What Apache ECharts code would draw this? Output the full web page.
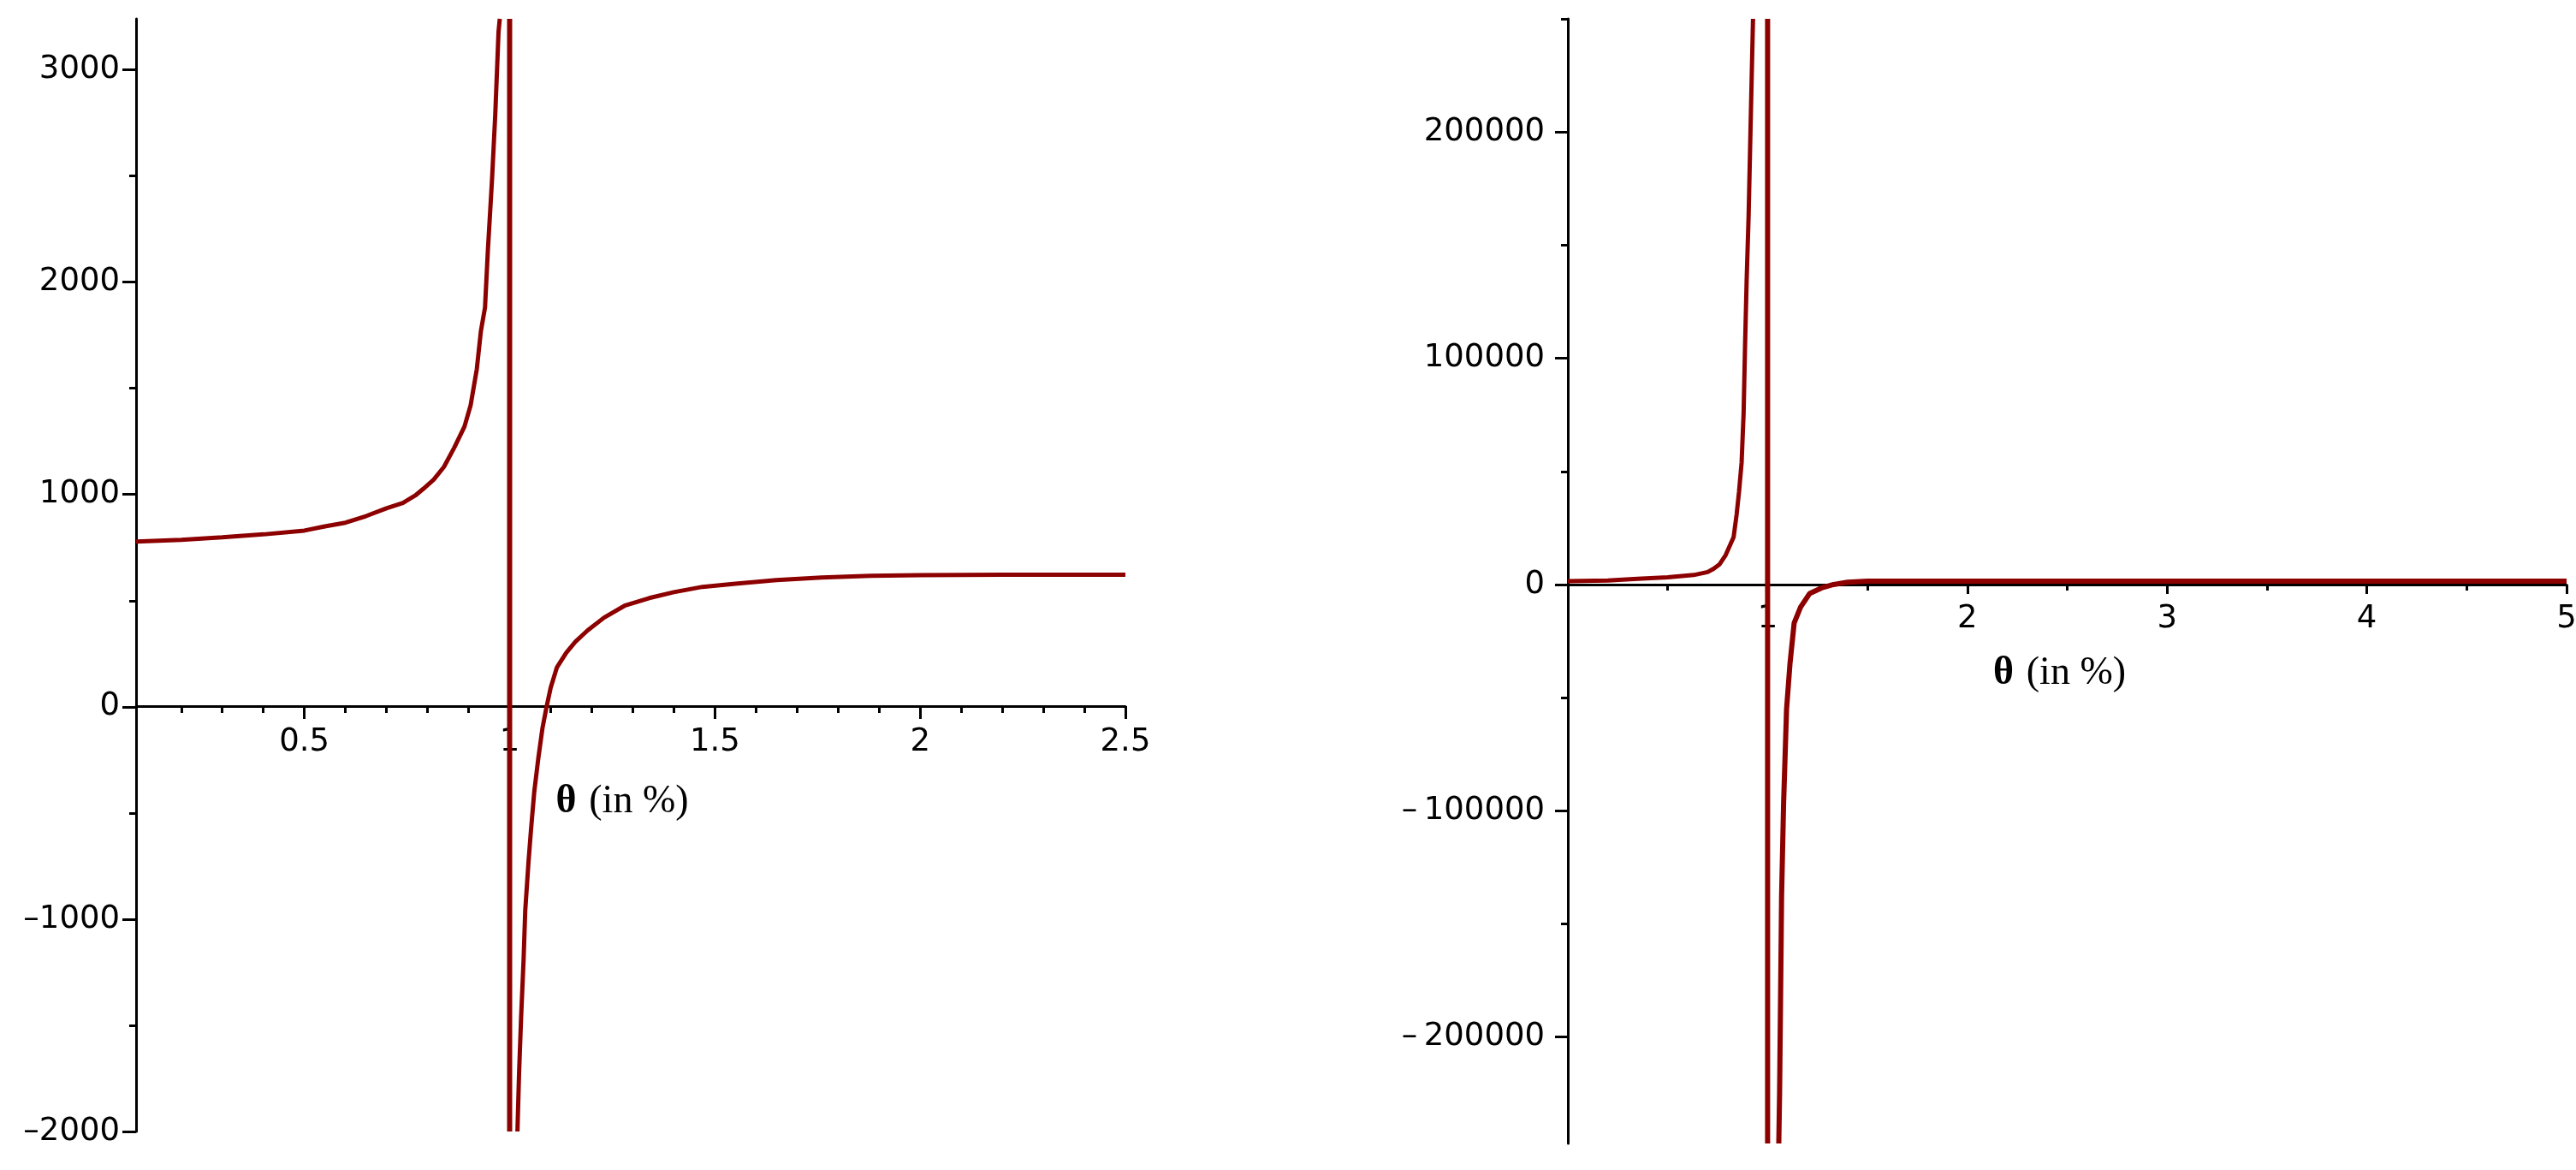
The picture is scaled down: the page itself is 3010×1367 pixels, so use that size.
<!DOCTYPE html>
<html>
<head>
<meta charset="utf-8">
<title>theta plots</title>
<script src="https://cdn.jsdelivr.net/npm/echarts@6/dist/echarts.min.js"></script>
<style>
  html, body { margin: 0; padding: 0; background: #fff; }
  #chart { width: 3010px; height: 1367px; }
</style>
</head>
<body>
<div id="chart"></div>
<script>
// left plot: branch before the pole, branch after it, and the pole line
var leftThetaA = [0.09, 0.2, 0.3, 0.4, 0.5, 0.55, 0.6, 0.65, 0.7, 0.74, 0.77, 0.79, 0.815, 0.84, 0.865, 0.89, 0.905, 0.92, 0.93, 0.94, 0.947, 0.957, 0.965, 0.973, 0.976];
var leftValueA = [778, 786, 798, 812, 830, 850, 867, 898, 935, 960, 995, 1027, 1070, 1130, 1220, 1320, 1420, 1590, 1770, 1880, 2150, 2480, 2790, 3180, 3240];
var leftThetaB = [1.019, 1.023, 1.028, 1.034, 1.038, 1.046, 1.052, 1.06, 1.07, 1.08, 1.09, 1.1, 1.115, 1.138, 1.16, 1.19, 1.23, 1.28, 1.34, 1.4, 1.47, 1.55, 1.65, 1.76, 1.88, 2.0, 2.2, 2.5];
var leftValueB = [-2000, -1725, -1460, -1190, -960, -730, -580, -400, -240, -100, 0, 90, 185, 255, 306, 360, 420, 476, 512, 540, 565, 580, 597, 609, 617, 620, 622, 622];
var leftPoleTheta = [1, 1];
var leftPoleValue = [3240, -2000];
var leftXTicks = [0.5, 1, 1.5, 2, 2.5];
var leftXMinorTicks = [0.2, 0.3, 0.4, 0.6, 0.7, 0.8, 0.9, 1.1, 1.2, 1.3, 1.4, 1.6, 1.7, 1.8, 1.9, 2.1, 2.2, 2.3, 2.4];
var leftYTicks = [-2000, -1000, 0, 1000, 2000, 3000];
var leftYMinorTicks = [-1500, -500, 500, 1500, 2500];

// right plot
var rightThetaA = [0, 0.2, 0.35, 0.5, 0.63, 0.7, 0.73, 0.76, 0.79, 0.81, 0.83, 0.845, 0.857, 0.87, 0.88, 0.887, 0.895, 0.905, 0.915, 0.927];
var rightValueA = [1500, 1800, 2500, 3200, 4200, 5500, 7000, 9000, 13000, 17000, 21000, 31000, 41000, 54000, 76000, 105000, 134000, 163000, 203000, 250000];
var rightThetaB = [1.056, 1.06, 1.065, 1.07, 1.08, 1.095, 1.112, 1.133, 1.165, 1.21, 1.27, 1.33, 1.4, 1.5, 2, 3, 4, 5];
var rightValueB = [-247000, -225000, -182000, -138000, -97000, -55000, -35000, -17000, -10000, -4000, -1500, 0, 1000, 1500, 1500, 1500, 1500, 1500];
var rightPoleTheta = [1, 1];
var rightPoleValue = [250000, -247000];
var rightYTicks = [-200000, -100000, 0, 100000, 200000];
var rightYMinorTicks = [-150000, -50000, 50000, 150000, 250000];

var curveColor = '#8c0000';
var labelFont = { color: '#000', fontFamily: 'DejaVu Sans', fontSize: 37 };
var black = { color: '#000', width: 3 };

// x axes sit on the zero line: shift them up from the grid bottom
var leftZeroShift = -497;
var rightZeroShift = -653;

function pairs(xs, ys) {
  return xs.map(function (x, i) { return [x, ys[i]]; });
}

function curve(xi, yi, xs, ys, width) {
  return {
    type: 'line', xAxisIndex: xi, yAxisIndex: yi,
    data: pairs(xs, ys),
    showSymbol: false, clip: true, z: 3,
    itemStyle: { color: curveColor },
    lineStyle: { color: curveColor, width: width }
  };
}

var thetaName = '{b|θ} {r| (in %)}';
var thetaNameStyle = {
  rich: {
    b: { fontFamily: 'Liberation Serif', fontWeight: 'bold', fontSize: 46, color: '#000' },
    r: { fontFamily: 'Liberation Serif', fontSize: 46, color: '#000' }
  }
};

function initOption() {
  return {
    backgroundColor: '#fff',
    animation: false,
    grid: [
      { left: 159, top: 22, width: 1156, height: 1300, outerBoundsMode: 'none' },
      { left: 1832, top: 22, width: 1167, height: 1314, outerBoundsMode: 'none' }
    ],
    xAxis: [
      {
        gridIndex: 0, type: 'value', position: 'bottom', offset: leftZeroShift, min: 0.09, max: 2.5,
        axisLine: { show: true, onZero: false, lineStyle: black },
        axisTick: { show: true, customValues: leftXTicks, length: 15, lineStyle: black },
        axisLabel: Object.assign({ show: true, customValues: leftXTicks, margin: 24 }, labelFont),
        splitLine: { show: false },
        name: thetaName, nameLocation: 'middle', nameGap: 89,
        nameTextStyle: Object.assign({ padding: [0, 20, 0, 0] }, thetaNameStyle)
      },
      {
        gridIndex: 0, type: 'value', position: 'bottom', offset: leftZeroShift, min: 0.09, max: 2.5,
        axisLine: { show: false, onZero: false },
        axisTick: { show: true, customValues: leftXMinorTicks, length: 8, lineStyle: black },
        axisLabel: { show: false },
        splitLine: { show: false }
      },
      {
        gridIndex: 1, type: 'value', position: 'bottom', offset: rightZeroShift, min: 0, max: 5, interval: 1,
        axisLine: { show: true, onZero: false, lineStyle: black },
        axisTick: { show: true, length: 11, lineStyle: black },
        minorTick: { show: true, splitNumber: 2, length: 7, lineStyle: black },
        axisLabel: Object.assign({ show: true, margin: 22, showMinLabel: false }, labelFont),
        splitLine: { show: false },
        minorSplitLine: { show: false },
        name: thetaName, nameLocation: 'middle', nameGap: 81,
        nameTextStyle: Object.assign({ padding: [0, 18, 0, 0] }, thetaNameStyle)
      }
    ],
    yAxis: [
      {
        gridIndex: 0, type: 'value', position: 'left', min: -2000, max: 3240,
        axisLine: { show: true, onZero: false, lineStyle: black },
        axisTick: { show: true, customValues: leftYTicks, length: 16, lineStyle: black },
        axisLabel: Object.assign({
          show: true, customValues: leftYTicks, margin: 19,
          formatter: function (v) { return v < 0 ? '\u2013' + Math.abs(v) : String(v); }
        }, labelFont),
        splitLine: { show: false }
      },
      {
        gridIndex: 0, type: 'value', position: 'left', min: -2000, max: 3240,
        axisLine: { show: false, onZero: false },
        axisTick: { show: true, customValues: leftYMinorTicks, length: 8, lineStyle: black },
        axisLabel: { show: false },
        splitLine: { show: false }
      },
      {
        gridIndex: 1, type: 'value', position: 'left', min: -247000, max: 250000,
        axisLine: { show: true, onZero: false, lineStyle: black },
        axisTick: { show: true, customValues: rightYTicks, length: 15, lineStyle: black },
        axisLabel: Object.assign({
          show: true, customValues: rightYTicks, margin: 27,
          formatter: function (v) { return v < 0 ? '\u2013\u2009' + Math.abs(v) : String(v); }
        }, labelFont),
        splitLine: { show: false }
      },
      {
        gridIndex: 1, type: 'value', position: 'left', min: -247000, max: 250000,
        axisLine: { show: false, onZero: false },
        axisTick: { show: true, customValues: rightYMinorTicks, length: 8, lineStyle: black },
        axisLabel: { show: false },
        splitLine: { show: false }
      }
    ],
    series: [
      curve(0, 0, leftThetaA, leftValueA, 5),
      curve(0, 0, leftThetaB, leftValueB, 5),
      curve(0, 0, leftPoleTheta, leftPoleValue, 6),
      curve(2, 2, rightThetaA, rightValueA, 5),
      curve(2, 2, rightThetaB, rightValueB, 6),
      curve(2, 2, rightPoleTheta, rightPoleValue, 6)
    ]
  };
}

var myChart = echarts.init(document.getElementById('chart'));
myChart.setOption(initOption());
</script>
</body>
</html>
